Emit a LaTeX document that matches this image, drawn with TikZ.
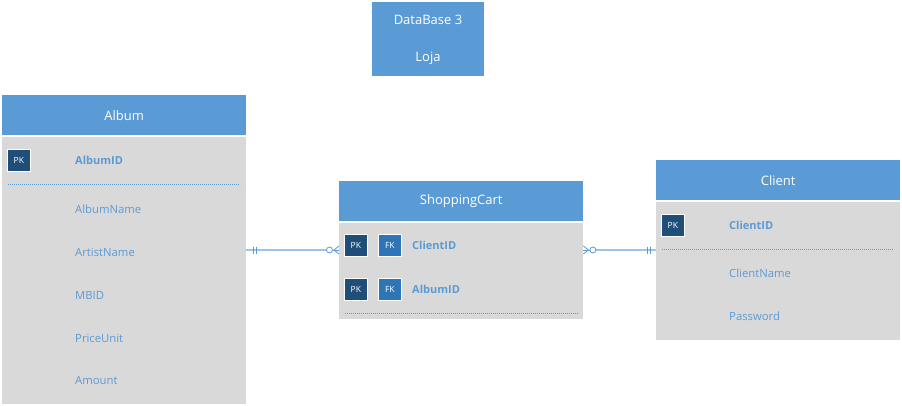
\documentclass[tikz,border=0pt]{standalone}
\usepackage{fontspec}
\setmainfont{Open Sans}
\definecolor{hdrblue}{HTML}{5B9BD5}
\definecolor{bodygrey}{HTML}{D9D9D9}
\definecolor{pkblue}{HTML}{1F4E79}
\definecolor{fkblue}{HTML}{2E75B6}
\definecolor{txtblue}{HTML}{5B9BD5}
\definecolor{lineblue}{HTML}{9DC3E6}
\begin{document}
\begin{tikzpicture}[x=1pt,y=-1pt,
  hdr/.style={anchor=north west, fill=hdrblue, inner sep=0pt, text=white, font=\fontsize{13}{15}\selectfont},
  tbody/.style={anchor=north west, fill=bodygrey, inner sep=0pt},
  keybox/.style={anchor=north west, draw=white, line width=0.8pt, inner sep=0pt, minimum width=23pt, minimum height=22pt, text=white, font=\fontsize{8.5}{9}\selectfont},
  pk/.style={keybox, fill=pkblue},
  fk/.style={keybox, fill=fkblue},
  field/.style={anchor=west, inner sep=0pt, text=txtblue, font=\fontsize{11.3}{13}\selectfont},
  keyfield/.style={field, font=\fontsize{11}{13}\selectfont\bfseries},
  sep/.style={draw=txtblue, dash pattern=on 1.2pt off 0.8pt, line width=0.7pt},
  rel/.style={draw=lineblue, line width=1.2pt},
  relmark/.style={draw=txtblue, line width=0.8pt}
]
\useasboundingbox (0,0) rectangle (902,406);
% DataBase box
\node[hdr, minimum width=112pt, minimum height=74pt] (db) at (372,2) {};
\node[text=white, font=\fontsize{13}{15}\selectfont, inner sep=0pt] (dbname) at (428,20) {DataBase 3};
\node[text=white, font=\fontsize{13}{15}\selectfont, inner sep=0pt] (dbsub) at (428,58) {Loja};

% Album
\node[hdr, minimum width=244pt, minimum height=40pt] (albumhdr) at (2,95) {Album};
\node[tbody, minimum width=244pt, minimum height=267pt] (albumbody) at (2,137) {};
\node[pk] (albumpk) at (7,149) {PK};
\node[keyfield] (albumid) at (75,160) {AlbumID};
\draw[sep] (8,184) -- (240,184);
\node[field] (albumname) at (75,209) {AlbumName};
\node[field] (artistname) at (75,252) {ArtistName};
\node[field] (mbid) at (75,295) {MBID};
\node[field] (priceunit) at (75,338) {PriceUnit};
\node[field] (amount) at (75,381) {Amount};

% ShoppingCart
\node[hdr, minimum width=244pt, minimum height=40pt] (carthdr) at (339,181) {ShoppingCart};
\node[tbody, minimum width=244pt, minimum height=96pt] (cartbody) at (339,223) {};
\node[pk] (cartpk1) at (344,234) {PK};
\node[fk] (cartfk1) at (378,234) {FK};
\node[keyfield] (cartclient) at (412,245) {ClientID};
\node[pk] (cartpk2) at (344,278) {PK};
\node[fk] (cartfk2) at (378,278) {FK};
\node[keyfield] (cartalbum) at (412,289) {AlbumID};
\draw[sep] (345,313) -- (578,313);

% Client
\node[hdr, minimum width=244pt, minimum height=40pt] (clienthdr) at (656,160) {Client};
\node[tbody, minimum width=244pt, minimum height=138pt] (clientbody) at (656,202) {};
\node[pk] (clientpk) at (661,214) {PK};
\node[keyfield] (clientid) at (729,225) {ClientID};
\draw[sep] (662,249) -- (894,249);
\node[field] (clientname) at (729,273) {ClientName};
\node[field] (password) at (729,316) {Password};

% Relationships
\coordinate (a1) at (albumbody.east |- 0,250);
\coordinate (c1) at (cartbody.west |- 0,250);
\coordinate (c2) at (cartbody.east |- 0,250);
\coordinate (k2) at (clientbody.west |- 0,250);
\draw[rel] (a1) -- ([xshift=-7pt]c1);
\draw[relmark] ([xshift=7pt]a1) ++(0,-3.5) -- ++(0,7);
\draw[relmark] ([xshift=10pt]a1) ++(0,-3.5) -- ++(0,7);
\draw[relmark, fill=white] ([xshift=-9.5pt]c1) circle (3pt);
\draw[relmark] (c1) ++(0,-4) -- ++(-5,4) -- ++(5,4);
\draw[relmark] ([xshift=-6.5pt]c1) -- (c1);

\draw[rel] ([xshift=7pt]c2) -- (k2);
\draw[relmark] ([xshift=-9pt]k2) ++(0,-3.5) -- ++(0,7);
\draw[relmark] ([xshift=-6pt]k2) ++(0,-3.5) -- ++(0,7);
\draw[relmark, fill=white] ([xshift=9.5pt]c2) circle (3pt);
\draw[relmark] (c2) ++(0,-4) -- ++(5,4) -- ++(-5,4);
\draw[relmark] (c2) -- ([xshift=6.5pt]c2);
\end{tikzpicture}
\end{document}
